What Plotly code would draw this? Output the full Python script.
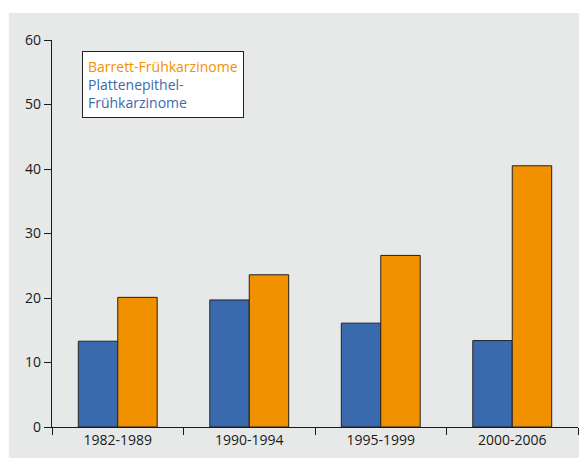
import plotly.graph_objects as go

periods = ["1982-1989", "1990-1994", "1995-1999", "2000-2006"]
platten = [13.3, 19.7, 16.1, 13.4]
barrett = [20.1, 23.6, 26.6, 40.5]

BLUE = "#3a69ad"
ORANGE = "#f29100"
FONT = "Open Sans"

fig = go.Figure()
fig.add_trace(go.Bar(x=periods, y=platten, name="Plattenepithel-Frühkarzinome",
                     marker=dict(color=BLUE, line=dict(color="#222222", width=1))))
fig.add_trace(go.Bar(x=periods, y=barrett, name="Barrett-Frühkarzinome",
                     marker=dict(color=ORANGE, line=dict(color="#222222", width=1))))

# grey panel behind the chart
fig.add_shape(type="rect", xref="paper", yref="paper", x0=-0.082, x1=1.05, y0=-0.08, y1=1.07,
              fillcolor="#e7e8e8", line=dict(width=0), layer="below")

fig.add_annotation(
    xref="paper", yref="paper", x=0.057, y=0.972, xanchor="left", yanchor="top",
    align="left", showarrow=False,
    text=(f"<span style='color:{ORANGE}'>Barrett-Frühkarzinome</span><br>"
          f"<span style='color:{BLUE}'>Plattenepithel-<br>Frühkarzinome</span>"),
    font=dict(family=FONT, size=14),
    bgcolor="white", bordercolor="#222222", borderwidth=1, borderpad=5,
)

# the page body adds an 8px offset, so the figure is a little smaller than the window
fig.update_layout(
    width=579, height=455,
    margin=dict(l=44, r=9, t=32, b=36),
    paper_bgcolor="white", plot_bgcolor="#e7e8e8",
    font=dict(family=FONT, size=14, color="#1a1a1a"),
    barmode="group", bargap=0.4, bargroupgap=0,
    showlegend=False,
    xaxis=dict(showline=True, linecolor="#1a1a1a", linewidth=1.3, ticks="outside",
               tickson="boundaries", ticklen=7, tickcolor="#1a1a1a", showgrid=False),
    yaxis=dict(range=[0, 60], dtick=10, showline=True, linecolor="#1a1a1a", linewidth=1.3,
               ticks="outside", ticklen=7, tickcolor="#1a1a1a", showgrid=False,
               zeroline=False),
)

fig.write_html("out.html")
